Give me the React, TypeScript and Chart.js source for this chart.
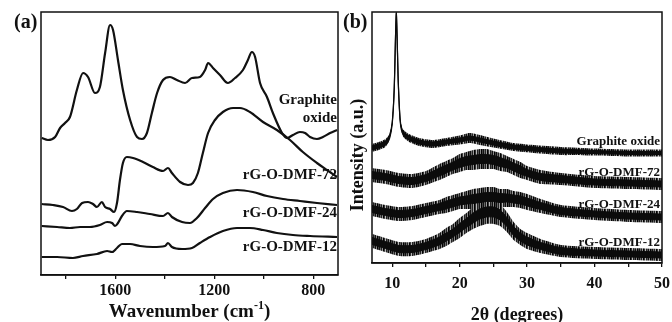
import React, { useEffect, useRef } from 'react';
import { Chart, registerables } from 'chart.js';

Chart.register(...registerables);

// ---------- Panel (a): FTIR ----------
const ftirWnGO = [1897, 1872, 1843, 1823, 1803, 1783, 1755, 1730, 1710, 1682, 1662, 1641, 1621, 1609, 1589, 1569, 1540, 1512, 1492, 1472, 1452, 1431, 1407, 1379, 1351, 1318, 1290, 1258, 1237, 1225, 1205, 1177, 1145, 1116, 1084, 1064, 1048, 1035, 1015, 987, 963, 926, 906, 882, 854, 833, 813, 785, 761, 732, 704];
const ftirGO = [137, 135, 138, 147, 152, 158, 185, 202, 198, 182, 188, 222, 250, 245, 215, 185, 155, 138, 136, 142, 162, 182, 195, 198, 195, 192, 197, 198, 205, 212, 207, 200, 192, 197, 205, 215, 223, 218, 192, 178, 162, 142, 137, 140, 143, 142, 138, 136, 138, 142, 145];

const ftirWn72 = [1897, 1852, 1811, 1775, 1755, 1734, 1710, 1690, 1674, 1654, 1641, 1621, 1605, 1593, 1581, 1569, 1553, 1528, 1488, 1448, 1407, 1387, 1371, 1338, 1306, 1286, 1266, 1246, 1225, 1197, 1165, 1124, 1096, 1056, 1003, 947, 894, 842, 785, 745, 704];
const ftir72 = [71, 70, 68, 64, 66, 72, 73, 71, 68, 73, 68, 66, 63, 72, 95, 112, 118, 117, 113, 108, 104, 107, 102, 93, 90, 92, 102, 122, 142, 155, 163, 167, 167, 163, 153, 145, 135, 123, 112, 105, 98];

const ftirWn24 = [1897, 1835, 1783, 1742, 1702, 1662, 1633, 1613, 1601, 1589, 1573, 1553, 1512, 1460, 1407, 1387, 1371, 1330, 1298, 1270, 1237, 1205, 1165, 1108, 1044, 987, 922, 854, 785, 704];
const ftir24 = [49, 48, 47, 48, 48, 50, 53, 52, 49, 52, 59, 64, 63, 61, 59, 62, 58, 53, 52, 57, 67, 76, 82, 85, 83, 79, 76, 74, 72, 70];

const ftirWn12 = [1897, 1835, 1771, 1730, 1674, 1633, 1613, 1593, 1573, 1540, 1500, 1448, 1399, 1387, 1371, 1330, 1290, 1258, 1217, 1165, 1108, 1056, 1003, 947, 882, 813, 704];
const ftir12 = [18, 18, 17, 19, 21, 24, 23, 27, 31, 31, 29, 28, 29, 32, 28, 26, 27, 32, 38, 44, 47, 47, 45, 42, 40, 39, 38];

const ftirTicks = [1800, 1600, 1400, 1200, 1000, 800];
const ftirTickLabels = [1600, 1200, 800];

// ---------- Panel (b): XRD ----------
const xrdThetaGO = [7, 8, 9, 9.6, 10, 10.3, 10.6, 10.9, 11.2, 11.6, 12.5, 14, 16, 18, 20, 21.5, 23, 25, 28, 31, 35, 40, 45, 50];
const xrdGO = [115, 117, 120, 126, 140, 175, 250, 180, 141, 130, 125, 121, 119, 121, 123, 125, 123, 120, 116, 114, 112, 111, 110, 110];
const xrdGOInner = [2, 2, 2, 1.5, 1, 0.6, 0.5, 0.6, 1, 1.5, 2, 2, 2, 2, 2, 2, 2, 2, 2, 2, 2, 1.5, 1.5, 1.5];
const xrdGOOuter = [4, 4, 4, 3, 1.5, 0.8, 0.6, 0.8, 2, 3.5, 4, 4, 4, 4, 4.5, 5, 5, 4.5, 4, 4, 4, 3.5, 3.5, 3.5];

const xrdTheta = [7, 9, 11, 13, 15, 17, 18, 19, 20, 21, 22, 23, 24, 25, 26, 27, 28, 29, 30, 32, 35, 40, 45, 50];
const xrd72 = [88, 86, 83, 82, 85, 91, 94, 97, 100, 102, 103, 104, 104, 103, 101, 99, 96, 93, 90, 86, 84, 81, 80, 79];
const xrd72Inner = [3.5, 3.5, 3.5, 3.5, 3.5, 4, 4, 4, 4.5, 4.5, 4.5, 4.5, 4.5, 4.5, 4.5, 4, 4, 4, 3.5, 3.5, 3.5, 3, 3, 3];
const xrd72Outer = [7, 7, 7, 7, 7, 8, 8, 8, 9, 9, 10, 10, 10, 9, 9, 8, 8, 8, 7, 7, 6, 6, 6, 6];
const xrd24 = [54, 51, 49, 50, 53, 56, 58, 60, 62, 63, 64, 65, 66, 66, 65, 65, 64, 63, 61, 57, 52, 49, 47, 46];
const xrd24Inner = [3.5, 3.5, 3.5, 3.5, 3.5, 3.5, 4, 4, 4, 4, 4.5, 4.5, 4.5, 4.5, 4.5, 4, 4, 4, 4, 3.5, 3.5, 3, 3, 3];
const xrd24Outer = [7, 7, 7, 7, 7, 7, 8, 8, 8, 9, 10, 10, 10, 10, 9, 9, 8, 8, 8, 7, 6, 6, 6, 6];
const xrd12 = [22, 18, 14, 14, 17, 22, 26, 30, 35, 40, 45, 49, 51, 51, 48, 41, 32, 26, 22, 17, 12, 10, 9, 8];
const xrd12Inner = [3.5, 3.5, 3.5, 3.5, 3.5, 4, 4, 4, 4.5, 4.5, 5, 5, 5, 5, 5, 4.5, 4.5, 4, 4, 3.5, 3.5, 3, 3, 3];
const xrd12Outer = [7, 7, 7, 7, 7, 8, 9, 9, 10, 10, 11, 12, 12, 12, 11, 10, 9, 8, 8, 7, 6, 6, 6, 6];

const xrdTicks = [10, 15, 20, 25, 30, 35, 40, 45, 50];
const xrdTickLabels = [10, 20, 30, 40, 50];

const FONT = '"Liberation Serif", "Times New Roman", serif';
const INK = '#111';

const pts = (xs: number[], ys: number[]) => xs.map((x, i) => ({ x, y: ys[i] }));
const shifted = (xs: number[], ys: number[], d: number[], sign: number) =>
  xs.map((x, i) => ({ x, y: ys[i] + sign * d[i] }));

const framePlugin = {
  id: 'frame',
  afterDraw(chart: any, _args: any, opts: any) {
    const { ctx, chartArea: a } = chart;
    const xs = chart.scales.x;
    const ys = chart.scales.y;
    ctx.save();
    ctx.strokeStyle = INK;
    ctx.lineWidth = 1.5;
    ctx.strokeRect(a.left, a.top, a.right - a.left, a.bottom - a.top);
    ctx.fillStyle = INK;
    // tick labels
    ctx.font = `bold 16px ${FONT}`;
    ctx.textAlign = 'center';
    ctx.textBaseline = 'middle';
    (opts.tickLabels || []).forEach((v: number) => {
      ctx.fillText(String(v), xs.getPixelForValue(v), a.bottom + opts.tickDy);
    });
    // series labels
    ctx.font = `bold ${opts.labelSize}px ${FONT}`;
    ctx.textAlign = 'right';
    (opts.labels || []).forEach((l: any) => {
      ctx.fillText(l.text, a.right - opts.labelInset, ys.getPixelForValue(l.y));
    });
    // panel letter
    ctx.font = `bold 20px ${FONT}`;
    ctx.textAlign = 'left';
    ctx.fillText(opts.panel, opts.panelX, 23);
    // x title
    const xc = (a.left + a.right) / 2;
    const ty = opts.titleY;
    if (opts.sup) {
      const big = `bold ${opts.titleSize}px ${FONT}`;
      const small = `bold ${Math.round(opts.titleSize * 0.62)}px ${FONT}`;
      ctx.font = big;
      const w1 = ctx.measureText(opts.title).width;
      const w3 = ctx.measureText(')').width;
      ctx.font = small;
      const w2 = ctx.measureText(opts.sup).width;
      let x = xc - (w1 + w2 + w3) / 2;
      ctx.textBaseline = 'alphabetic';
      ctx.font = big;
      ctx.fillText(opts.title, x, ty + 6);
      x += w1;
      ctx.font = small;
      ctx.fillText(opts.sup, x, ty - 2);
      x += w2;
      ctx.font = big;
      ctx.fillText(')', x, ty + 6);
    } else {
      ctx.font = `bold ${opts.titleSize}px ${FONT}`;
      ctx.textAlign = 'center';
      ctx.fillText(opts.title, xc, ty);
    }
    if (opts.yTitle) {
      ctx.save();
      ctx.translate(opts.yTitleX, opts.yTitleY);
      ctx.rotate(-Math.PI / 2);
      ctx.font = `bold 18px ${FONT}`;
      ctx.textAlign = 'center';
      ctx.textBaseline = 'middle';
      ctx.fillText(opts.yTitle, 0, 0);
      ctx.restore();
    }
    ctx.restore();
  },
};

const xScale = (min: number, max: number, reverse: boolean, ticks: number[], height: number) => ({
  type: 'linear' as const,
  min,
  max,
  reverse,
  afterBuildTicks: (s: any) => {
    s.ticks = ticks.map((v) => ({ value: v }));
  },
  afterFit: (s: any) => {
    s.height = height;
  },
  ticks: { display: false, autoSkip: false },
  grid: { drawOnChartArea: false, drawTicks: true, tickLength: 4, color: INK, lineWidth: 1.3 },
  border: { display: true, color: INK, width: 1.5 },
});

function noisePattern(): CanvasPattern | string {
  const c = document.createElement('canvas');
  const shades = ['#111', '#6a6a6a', '#222', '#9a9a9a', '#000', '#333', '#b8b8b8', '#222', '#555', '#111', '#8a8a8a', '#000', '#444'];
  c.width = shades.length;
  c.height = 1;
  const g = c.getContext('2d');
  if (!g) return '#555';
  shades.forEach((s, i) => {
    g.fillStyle = s;
    g.fillRect(i, 0, 1, 1);
  });
  return g.createPattern(c, 'repeat') || '#555';
}

function FtirChart() {
  const ref = useRef<HTMLCanvasElement | null>(null);
  useEffect(() => {
    if (!ref.current) return;
    const line = (xs: number[], ys: number[]) => ({
      data: pts(xs, ys),
      borderColor: INK,
      borderWidth: 2.2,
      pointRadius: 0,
      fill: false,
      cubicInterpolationMode: 'monotone' as const,
    });
    const chart = new Chart(ref.current, {
      type: 'line',
      data: {
        datasets: [
          line(ftirWnGO, ftirGO),
          line(ftirWn72, ftir72),
          line(ftirWn24, ftir24),
          line(ftirWn12, ftir12),
        ],
      },
      options: {
        responsive: false,
        animation: false,
        layout: { padding: { left: 41, right: 2, top: 12, bottom: 0 } },
        scales: {
          x: xScale(700, 1900, true, ftirTicks, 47) as any,
          y: { display: false, min: 0, max: 263 },
        },
        plugins: {
          legend: { display: false },
          tooltip: { enabled: false },
          frame: {
            tickLabels: ftirTickLabels,
            tickDy: 16,
            labelSize: 15,
            labelInset: 1,
            labels: [
              { text: 'Graphite', y: 175 },
              { text: 'oxide', y: 157 },
              { text: 'rG-O-DMF-72', y: 100 },
              { text: 'rG-O-DMF-24', y: 62 },
              { text: 'rG-O-DMF-12', y: 28 },
            ],
            panel: '(a)',
            panelX: 14,
            title: 'Wavenumber (cm',
            sup: '-1',
            titleSize: 19,
            titleY: 311,
          },
        } as any,
      },
      plugins: [framePlugin],
    });
    return () => chart.destroy();
  }, []);
  return <canvas ref={ref} width={340} height={322} style={{ position: 'absolute', left: 0, top: 0 }} />;
}

function XrdChart() {
  const ref = useRef<HTMLCanvasElement | null>(null);
  useEffect(() => {
    if (!ref.current) return;
    const band = (xs: number[], ys: number[], d: number[], fillStyle: any, color: string, bw: number) => [
      {
        data: shifted(xs, ys, d, 1),
        borderColor: color,
        backgroundColor: fillStyle,
        borderWidth: bw,
        pointRadius: 0,
        tension: 0.2,
        fill: '+1',
      },
      {
        data: shifted(xs, ys, d, -1),
        borderColor: color,
        backgroundColor: fillStyle,
        borderWidth: bw,
        pointRadius: 0,
        tension: 0.2,
        fill: false,
      },
    ];
    const inner = '#0b0b0b';
    const pat = noisePattern();
    const chart = new Chart(ref.current, {
      type: 'line',
      data: {
        datasets: [
          ...band(xrdThetaGO, xrdGO, xrdGOInner, inner, inner, 1.2),
          ...band(xrdTheta, xrd72, xrd72Inner, inner, inner, 1),
          ...band(xrdTheta, xrd24, xrd24Inner, inner, inner, 1),
          ...band(xrdTheta, xrd12, xrd12Inner, inner, inner, 1),
          ...band(xrdThetaGO, xrdGO, xrdGOOuter, pat, 'rgba(0,0,0,0)', 0),
          ...band(xrdTheta, xrd72, xrd72Outer, pat, 'rgba(0,0,0,0)', 0),
          ...band(xrdTheta, xrd24, xrd24Outer, pat, 'rgba(0,0,0,0)', 0),
          ...band(xrdTheta, xrd12, xrd12Outer, pat, 'rgba(0,0,0,0)', 0),
        ] as any,
      },
      options: {
        responsive: false,
        animation: false,
        layout: { padding: { left: 32, right: 10, top: 12, bottom: 0 } },
        scales: {
          x: xScale(7, 50, false, xrdTicks, 59) as any,
          y: { display: false, min: 0, max: 251 },
        },
        plugins: {
          legend: { display: false },
          tooltip: { enabled: false },
          frame: {
            tickLabels: xrdTickLabels,
            tickDy: 21,
            labelSize: 13,
            labelInset: 2,
            labels: [
              { text: 'Graphite oxide', y: 121 },
              { text: 'rG-O-DMF-72', y: 90 },
              { text: 'rG-O-DMF-24', y: 58 },
              { text: 'rG-O-DMF-12', y: 20 },
            ],
            panel: '(b)',
            panelX: 3,
            title: '2θ (degrees)',
            titleSize: 18,
            titleY: 315,
            yTitle: 'Intensity (a.u.)',
            yTitleX: 18,
            yTitleY: 155,
          },
        } as any,
      },
      plugins: [framePlugin],
    });
    return () => chart.destroy();
  }, []);
  return <canvas ref={ref} width={332} height={322} style={{ position: 'absolute', left: 340, top: 0 }} />;
}

export default function App() {
  return (
    <div style={{ position: 'absolute', left: 0, top: 0, width: 672, height: 322, background: '#fff', overflow: 'hidden' }}>
      <FtirChart />
      <XrdChart />
    </div>
  );
}
